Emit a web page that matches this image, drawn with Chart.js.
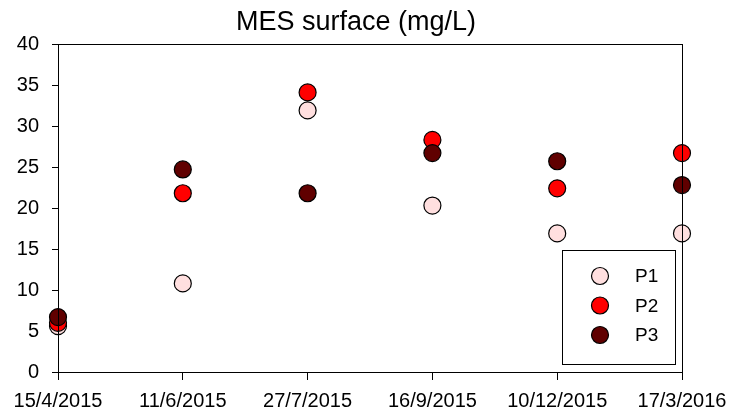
<!DOCTYPE html>
<html lang="fr">
<head>
  <meta charset="UTF-8">
  <title>MES surface (mg/L)</title>
  <script src="https://cdn.jsdelivr.net/npm/chart.js"></script>
  <style>
    body { margin: 0; background: #fff; }
    canvas { display: block; }
  </style>
</head>
<body>
<canvas id="mesChart" width="729" height="415"></canvas>
<script>
  // sampling dates (equally spaced on the axis)
  const dates = ['15/4/2015', '11/6/2015', '27/7/2015', '16/9/2015', '10/12/2015', '17/3/2016'];
  const p1 = [5.6, 10.8, 31.9, 20.3, 16.9, 16.9];
  const p2 = [6.0, 21.8, 34.1, 28.3, 22.4, 26.7];
  const p3 = [6.7, 24.7, 21.8, 26.7, 25.7, 22.8];
  const yTicks = [0, 5, 10, 15, 20, 25, 30, 35, 40];

  const fontFamily = '"Liberation Sans", Arial, sans-serif';

  // title, frame and boxed legend
  const decorations = {
    id: 'decorations',
    afterDraw(chart) {
      const ctx = chart.ctx;
      const a = chart.chartArea;
      ctx.save();
      ctx.strokeStyle = '#000';
      ctx.lineWidth = 1;
      ctx.strokeRect(Math.round(a.left) + 0.5, Math.round(a.top) + 0.5,
                     Math.round(a.right - a.left), Math.round(a.bottom - a.top));

      ctx.fillStyle = '#000';
      ctx.font = '27px ' + fontFamily;
      ctx.textAlign = 'center';
      ctx.textBaseline = 'alphabetic';
      ctx.fillText('MES surface (mg/L)', 356, 30);

      // legend
      ctx.fillStyle = '#fff';
      ctx.fillRect(562, 250, 113, 114);
      ctx.strokeRect(562.5, 250.5, 113, 114);
      ctx.font = '19px ' + fontFamily;
      ctx.textAlign = 'left';
      ctx.textBaseline = 'middle';
      chart.data.datasets.forEach((ds, i) => {
        const y = 276 + i * 29.5;
        ctx.beginPath();
        ctx.arc(600, y, 8.5, 0, Math.PI * 2);
        ctx.fillStyle = ds.backgroundColor;
        ctx.fill();
        ctx.lineWidth = 1.2;
        ctx.strokeStyle = '#000';
        ctx.stroke();
        ctx.fillStyle = '#000';
        ctx.fillText(ds.label, 635, y + 1);
      });
      ctx.restore();
    }
  };

  function series(label, data, color, order) {
    return {
      label: label,
      data: data,
      backgroundColor: color,
      borderColor: '#000',
      borderWidth: 1.2,
      pointRadius: 8.5,
      pointHoverRadius: 8.5,
      showLine: false,
      clip: false,
      order: order
    };
  }

  new Chart(document.getElementById('mesChart'), {
    type: 'line',
    data: {
      labels: dates,
      datasets: [
        series('P1', p1, '#ffdfdf', 2),
        series('P2', p2, '#ff0000', 1),
        series('P3', p3, '#600000', 0)
      ]
    },
    options: {
      responsive: false,
      animation: false,
      layout: { padding: { top: 44, right: 47, left: 0, bottom: 0 } },
      plugins: {
        legend: { display: false },
        title: { display: false },
        tooltip: { enabled: false }
      },
      scales: {
        x: {
          type: 'category',
          offset: false,
          afterFit(scale) {
            scale.height = 43;
            scale.paddingLeft = 0;
            scale.paddingRight = 0;
          },
          border: { display: true, color: '#000', width: 1 },
          grid: { display: true, drawOnChartArea: false, drawTicks: true, tickLength: 8, color: '#000' },
          ticks: { color: '#000', padding: 9, maxRotation: 0, autoSkip: false, font: { family: fontFamily, size: 20 } }
        },
        y: {
          min: 0,
          max: 40,
          afterFit(scale) { scale.width = 58; },
          afterBuildTicks(scale) { scale.ticks = yTicks.map(v => ({ value: v })); },
          border: { display: true, color: '#000', width: 1 },
          grid: { display: true, drawOnChartArea: false, drawTicks: true, tickLength: 6, color: '#000' },
          ticks: { color: '#000', padding: 13, font: { family: fontFamily, size: 20 } }
        }
      }
    },
    plugins: [decorations]
  });
</script>
</body>
</html>
